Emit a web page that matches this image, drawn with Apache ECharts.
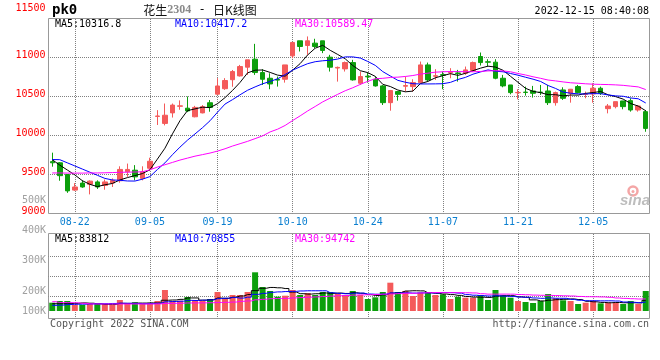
<!DOCTYPE html>
<html><head><meta charset="utf-8">
<script src="https://cdn.jsdelivr.net/npm/echarts@6.0.0/dist/echarts.min.js"></script>
<style>html,body{margin:0;padding:0;background:#fff}#c{width:660px;height:360px}</style>
</head><body><div id="c"></div>
<script>
const dates = ['08-17','08-18','08-19','08-22','08-23','08-24','08-25','08-26','08-29','08-30','08-31',
 '09-01','09-02','09-05','09-06','09-07','09-08','09-09','09-13','09-14','09-15','09-16','09-19','09-20','09-21','09-22','09-23','09-26','09-27','09-28','09-29','09-30',
 '10-10','10-11','10-12','10-13','10-14','10-17','10-18','10-19','10-20','10-21','10-24','10-25','10-26','10-27','10-28','10-31',
 '11-01','11-02','11-03','11-04','11-07','11-08','11-09','11-10','11-11','11-14','11-15','11-16','11-17','11-18','11-21','11-22','11-23','11-24','11-25','11-28','11-29','11-30',
 '12-01','12-02','12-05','12-06','12-07','12-08','12-09','12-12','12-13','12-14'];
const opens = [9665,9650,9500,9300,9390,9375,9405,9360,9390,9420,
 9535,9555,9450,9580,10245,10155,10290,10375,10350,10240,
 10290,10420,10530,10600,10715,10764,10876,10978,10807,10734,
 10720,10721,11021,11214,11154,11184,11214,11004,10865,10854,
 10935,10670,10760,10721,10636,10421,10563,10632,10627,10678,
 10905,10760,10780,10803,10802,10798,10833,11013,10945,10940,
 10734,10648,10548,10556,10571,10556,10571,10421,10584,10541,
 10627,10526,10533,10606,10344,10370,10443,10447,10327,10306];
const closes = [9650,9485,9290,9340,9340,9415,9340,9405,9425,9565,
 9565,9470,9535,9670,10250,10260,10390,10380,10315,10360,
 10370,10360,10635,10705,10820,10884,10970,10807,10721,10661,
 10710,10905,11193,11141,11214,11141,11090,10876,10873,10935,
 10713,10756,10752,10636,10421,10576,10528,10640,10678,10905,
 10713,10766,10773,10810,10795,10841,10935,10935,10940,10734,
 10636,10550,10552,10552,10541,10552,10421,10550,10477,10593,
 10550,10530,10606,10541,10378,10434,10370,10327,10378,10091];
const lows = [9600,9420,9265,9290,9330,9245,9315,9305,9340,9395,
 9470,9425,9425,9545,10135,10130,10230,10330,10300,10233,
 10284,10305,10520,10585,10625,10756,10777,10777,10648,10593,
 10627,10678,10991,11077,11034,11120,11056,10820,10691,10820,
 10704,10648,10678,10627,10391,10318,10447,10563,10563,10670,
 10691,10713,10593,10734,10691,10777,10820,10897,10884,10721,
 10618,10528,10464,10511,10486,10520,10391,10383,10456,10421,
 10541,10477,10421,10520,10284,10348,10336,10306,10306,10048];
const highs = [9780,9660,9505,9390,9425,9425,9425,9435,9450,9605,
 9640,9620,9605,9715,10325,10410,10410,10450,10500,10380,
 10390,10455,10735,10735,10840,10905,10970,11175,10850,10798,
 10756,10905,11193,11214,11270,11240,11214,11034,10884,10948,
 10970,10820,10807,10756,10648,10584,10571,10756,10721,10948,
 10935,10850,10820,10863,10841,10884,10948,11064,10978,10978,
 10777,10648,10593,10627,10636,10648,10648,10563,10618,10593,
 10648,10563,10670,10627,10404,10434,10443,10477,10391,10327];
const ma5 = [9690,9620,9558,9495,9421,9374,9345,9368,9385,9430,
 9460,9486,9512,9561,9698,9837,10021,10190,10319,10341,
 10363,10357,10408,10486,10578,10681,10803,10837,10840,10809,
 10774,10761,10838,10922,11033,11119,11156,11092,11039,10983,
 10897,10831,10806,10758,10656,10628,10583,10560,10569,10665,
 10693,10740,10767,10793,10771,10797,10831,10863,10889,10877,
 10836,10759,10682,10605,10566,10549,10524,10523,10508,10519,
 10518,10540,10551,10564,10521,10498,10466,10410,10377,10317];
const ma10 = [9692,9690,9650,9610,9570,9530,9490,9450,9430,9426,
 9417,9416,9440,9473,9564,9649,9754,9851,9940,10020,
 10100,10189,10299,10403,10460,10522,10580,10623,10663,10693,
 10727,10782,10838,10881,10921,10946,10958,10965,10980,11008,
 11008,10993,10949,10899,10819,10763,10707,10683,10664,10661,
 10661,10662,10664,10681,10718,10745,10786,10815,10841,10824,
 10817,10795,10773,10747,10722,10693,10641,10603,10557,10542,
 10534,10532,10537,10536,10520,10508,10503,10481,10471,10417];
const ma30 = [9520,9520,9518,9518,9518,9520,9520,9522,9525,9528,
 9530,9532,9535,9560,9595,9625,9655,9685,9710,9735,
 9755,9775,9800,9830,9865,9895,9925,9960,9995,10046,
 10081,10129,10192,10252,10315,10372,10431,10480,10528,10574,
 10612,10655,10695,10727,10733,10744,10748,10757,10769,10787,
 10799,10812,10817,10820,10819,10818,10817,10821,10828,10831,
 10828,10817,10795,10776,10753,10733,10711,10700,10687,10676,
 10670,10663,10658,10655,10653,10649,10643,10633,10623,10589];
const volumes = [65200,78500,78500,47100,47100,55000,55000,55000,47100,86400,
 55000,68300,55000,55000,78500,164900,78500,80900,109900,78500,
 78500,94200,149200,94200,125600,125600,149200,303800,188400,157000,
 112300,120100,164900,125600,141300,125600,149200,149200,138900,125600,
 157000,125600,94200,107500,149200,222200,149200,157000,117800,143700,
 149200,125600,131100,94200,112300,104400,104400,125600,86400,164900,
 120100,104400,78500,70700,62800,78500,133500,99700,84000,78500,
 55000,65200,78500,60400,65200,65200,55000,78500,55000,157000];
const volMa5 = [57000,57000,58000,60000,63300,61200,56500,51800,51800,59700,
 59700,62300,62300,63900,62300,84300,86300,91500,102500,102500,
 85200,88400,102000,98900,108300,117700,128700,159700,178500,184800,
 182100,176300,148500,135900,132800,135500,141300,138200,140800,137700,
 144000,139300,128300,122000,126700,139700,144400,157000,159000,157900,
 143300,138600,133400,128700,122500,113500,109200,108100,106600,117100,
 120200,120200,110800,107700,87300,79000,84800,89000,91700,94800,
 90100,76500,72200,67500,64800,66900,64800,64800,63700,83812];
const volMa10 = [44300,46200,50800,52600,53600,55400,56300,57300,59100,61500,
 60500,59500,57100,57900,61000,72000,74300,76900,83200,82500,
 84800,87400,96800,100800,105500,101500,108600,130900,138700,146600,
 150000,152600,154100,157300,158800,158800,158800,143300,138400,135300,
 139700,140300,133300,131400,132200,141800,141800,142700,140600,142300,
 141600,141600,145300,143900,140200,128500,123900,120800,117700,119800,
 116900,114800,109500,107100,102200,99600,102500,99900,99700,91100,
 84600,80600,80600,79600,79900,78500,70600,68500,65700,70855];
const volMa30 = [73000,66500,65600,64600,60000,56000,55000,55000,55000,55000,
 55000,55000,55000,55000,56000,59000,60000,61000,63000,63500,
 64000,65000,67000,68000,70000,76000,79000,88000,92000,96800,
 98400,99700,102700,105300,108400,110700,113900,117000,120100,121400,
 124900,126700,128000,129800,132200,134100,136400,139000,139200,141400,
 143700,144800,144200,144200,143700,143100,141600,135600,132200,132400,
 132700,132200,129300,127400,124900,123300,122700,121200,119300,117700,
 114300,112300,111700,110200,107400,102100,99000,96400,94300,94742];
const dateLabels = ['08-22','09-05','09-19','10-10','10-24','11-07','11-21','12-05'];
const priceGridValues = [9500, 10000, 10500, 11000];
const volTickLabels = ['500K','400K','300K','200K','100K'];
const priceLegend = ['MA5:10316.8','MA10:10417.2','MA30:10589.47'];
const volLegend = ['MA5:83812','MA10:70855','MA30:94742'];

const RED = '#f45a5a', GREEN = '#0c9f0c', GRIDC = '#808080';
const MONO = '"DejaVu Sans Mono", monospace';
const LEG_COLORS = ['#000000', '#0000ff', '#ff00ff'];
const gridLine = { color: GRIDC, type: [1, 1], dashOffset: 0.5, width: 1, opacity: 1 };

// volume panel layout (pixels): bars baseline and the panel's dotted rows
const VOL_TOP = 233.5, VOL_BASE = 311, VOL_PER_PX = 7850;
const volGridRows = [256.5, 276.5, 296.5];
const volAxisMax = (VOL_BASE - VOL_TOP) * VOL_PER_PX;
const volAxisMin = -(318.5 - VOL_BASE) * VOL_PER_PX;

const candleData = dates.map((d, i) => [opens[i], closes[i], lows[i], highs[i]]);
const volData = volumes.map((v, i) => ({ value: v, itemStyle: { color: closes[i] >= opens[i] ? RED : GREEN } }));
const baseMark = { silent: true, z: 1, symbol: ['none', 'none'], label: { show: false }, animation: false,
  lineStyle: gridLine, emphasis: { disabled: true } };
const priceMarks = Object.assign({}, baseMark, { data:
  dateLabels.map(d => ({ xAxis: d })).concat(priceGridValues.map(v => ({ yAxis: v }))) });
const volMarks = Object.assign({}, baseMark, { data:
  dateLabels.map(d => ({ xAxis: d })).concat(volGridRows.map(y => ({ yAxis: (VOL_BASE - y) * VOL_PER_PX }))) });

function txt(x, y, text, fill, opt) {
  return Object.assign({ type: 'text', x: x, y: y, silent: true, z: 100,
    style: Object.assign({ text: text, fill: fill, fontSize: 10, fontFamily: MONO,
      align: 'left', verticalAlign: 'middle', textAlign: 'left', textVerticalAlign: 'middle' }, (opt || {}).style || {}) });
}
const graphics = [];
graphics.push(txt(52, 10, 'pk0', '#000', { style: { fontSize: 14, fontWeight: 'bold' } }));
graphics.push({ type: 'text', x: 200, y: 10, silent: true, z: 100, style: {
  text: '{a|花生}{b|2304}{c| - }{a|日K线图}', align: 'center', verticalAlign: 'middle', textAlign: 'center', textVerticalAlign: 'middle',
  rich: {
    a: { fontSize: 12, fontFamily: '"Noto Sans CJK SC"', fill: '#111', color: '#111' },
    b: { fontSize: 12, fontFamily: '"Liberation Serif"', fontWeight: 'bold', fill: '#8a8a8a', color: '#8a8a8a' },
    c: { fontSize: 12, fontFamily: MONO, fill: '#111', color: '#111' }
  } } });
graphics.push(txt(649, 11, '2022-12-15 08:40:08', '#000', { style: { align: 'right', textAlign: 'right' } }));
const legX = [55, 175, 295];
priceLegend.forEach((t, i) => graphics.push(txt(legX[i], 24, t, LEG_COLORS[i])));
volLegend.forEach((t, i) => graphics.push(txt(legX[i], 239, t, LEG_COLORS[i])));
const volTickY = [200, 230, 260.5, 291, 311];
volTickLabels.forEach((t, i) => graphics.push(txt(46, volTickY[i], t, '#a0a0a0', { style: { align: 'right', textAlign: 'right' } })));
graphics.push(txt(50, 324, 'Copyright 2022 SINA.COM', '#555'));
graphics.push(txt(649, 324, 'http://finance.sina.com.cn', '#555', { style: { align: 'right', textAlign: 'right' } }));
graphics.push({ type: 'circle', silent: true, z: 90, shape: { cx: 633, cy: 191, r: 4.5 }, style: { fill: 'none', stroke: '#f4a6a6', lineWidth: 2.5 } });
graphics.push({ type: 'circle', silent: true, z: 90, shape: { cx: 633, cy: 191.5, r: 1.5 }, style: { fill: '#f4a6a6' } });
graphics.push(txt(650, 201, 'sina', '#bdbdbd', { style: { align: 'right', textAlign: 'right', fontSize: 15, fontStyle: 'italic', fontWeight: 'bold', fontFamily: '"Liberation Sans", sans-serif' } }));

const chart = echarts.init(document.getElementById('c'), null, { renderer: 'canvas' });
chart.setOption({
  animation: false,
  backgroundColor: '#fff',
  grid: [
    { left: 48.5, top: 18.5, width: 601, height: 195, show: true, borderColor: '#999', borderWidth: 1, backgroundColor: 'rgba(0,0,0,0)' },
    { left: 48.5, top: VOL_TOP, width: 601, height: 85, show: true, borderColor: '#999', borderWidth: 1, backgroundColor: 'rgba(0,0,0,0)' }
  ],
  xAxis: [
    { type: 'category', gridIndex: 0, data: dates, boundaryGap: true,
      axisLine: { show: false }, axisTick: { show: false }, splitLine: { show: false },
      axisLabel: { interval: (i, v) => dateLabels.includes(v), color: '#0a7fd0', fontFamily: MONO, fontSize: 10, margin: 4, hideOverlap: false } },
    { type: 'category', gridIndex: 1, data: dates, boundaryGap: true,
      axisLine: { show: false }, axisTick: { show: false }, axisLabel: { show: false }, splitLine: { show: false } }
  ],
  yAxis: [
    { type: 'value', gridIndex: 0, min: 9000, max: 11500, interval: 500,
      axisLine: { show: false }, axisTick: { show: false }, splitLine: { show: false },
      axisLabel: { margin: 3, color: '#ff0000', fontFamily: MONO, fontSize: 10,
        formatter: v => v === 11500 ? '{t|' + v + '}' : '{n|' + v + '}',
        rich: { t: { color: '#ff0000', fontFamily: MONO, fontSize: 10, padding: [0, 0, 20, 0] },
                n: { color: '#ff0000', fontFamily: MONO, fontSize: 10, padding: [0, 0, 4, 0] } } } },
    { type: 'value', gridIndex: 1, min: volAxisMin, max: volAxisMax, show: false, splitLine: { show: false } }
  ],
  series: [
    { type: 'candlestick', name: 'K', xAxisIndex: 0, yAxisIndex: 0, data: candleData, barWidth: 5, z: 3,
      itemStyle: { color: RED, color0: GREEN, borderColor: RED, borderColor0: GREEN, borderWidth: 1 },
      markLine: priceMarks },
    { type: 'line', name: 'MA5', xAxisIndex: 0, yAxisIndex: 0, data: ma5, symbol: 'none', z: 4, lineStyle: { color: LEG_COLORS[0], width: 1 } },
    { type: 'line', name: 'MA10', xAxisIndex: 0, yAxisIndex: 0, data: ma10, symbol: 'none', z: 4, lineStyle: { color: LEG_COLORS[1], width: 1 } },
    { type: 'line', name: 'MA30', xAxisIndex: 0, yAxisIndex: 0, data: ma30, symbol: 'none', z: 4, lineStyle: { color: LEG_COLORS[2], width: 1 } },
    { type: 'bar', name: 'VOL', xAxisIndex: 1, yAxisIndex: 1, data: volData, barWidth: 6, z: 3, markLine: volMarks },
    { type: 'line', name: 'VMA5', xAxisIndex: 1, yAxisIndex: 1, data: volMa5, step: 'middle', symbol: 'none', z: 4, lineStyle: { color: LEG_COLORS[0], width: 1 } },
    { type: 'line', name: 'VMA10', xAxisIndex: 1, yAxisIndex: 1, data: volMa10, step: 'middle', symbol: 'none', z: 4, lineStyle: { color: LEG_COLORS[1], width: 1 } },
    { type: 'line', name: 'VMA30', xAxisIndex: 1, yAxisIndex: 1, data: volMa30, step: 'middle', symbol: 'none', z: 4, lineStyle: { color: LEG_COLORS[2], width: 1 } }
  ],
  graphic: graphics
});
</script></body></html>
